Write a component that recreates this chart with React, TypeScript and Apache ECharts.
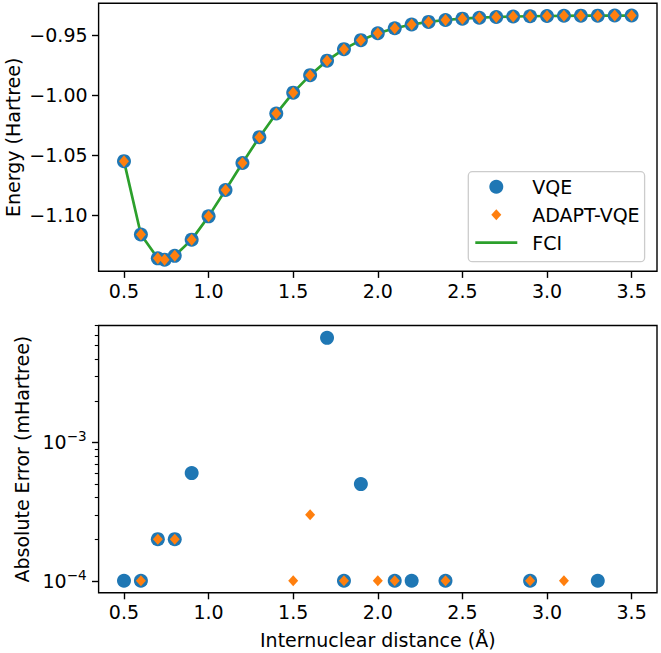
import React, { useEffect, useRef } from "react";
import * as echarts from "echarts";

// ---------- data ----------
const distances = [
  0.5, 0.6, 0.7, 0.74, 0.8, 0.9, 1.0, 1.1, 1.2, 1.3, 1.4, 1.5, 1.6, 1.7, 1.8, 1.9, 2.0,
  2.1, 2.2, 2.3, 2.4, 2.5, 2.6, 2.7, 2.8, 2.9, 3.0, 3.1, 3.2, 3.3, 3.4, 3.5,
];
const fciEnergy = [
  -1.0552, -1.1163, -1.1362, -1.1373, -1.1341, -1.1206, -1.1012, -1.0792, -1.0567, -1.0352,
  -1.0155, -0.9981, -0.9835, -0.9714, -0.9618, -0.9543, -0.9486, -0.9444, -0.9413, -0.9391,
  -0.9375, -0.9364, -0.9356, -0.935, -0.9346, -0.9344, -0.9342, -0.934, -0.9339, -0.9339,
  -0.9338, -0.9338,
];
const vqeEnergy = [
  -1.0552, -1.1163, -1.1362, -1.1373, -1.1341, -1.1206, -1.1012, -1.0792, -1.0567, -1.0352,
  -1.0155, -0.9981, -0.9835, -0.9714, -0.9618, -0.9543, -0.9486, -0.9444, -0.9413, -0.9391,
  -0.9375, -0.9364, -0.9356, -0.935, -0.9346, -0.9344, -0.9342, -0.934, -0.9339, -0.9339,
  -0.9338, -0.9338,
];
const adaptEnergy = [
  -1.0552, -1.1163, -1.1362, -1.1373, -1.1341, -1.1206, -1.1012, -1.0792, -1.0567, -1.0352,
  -1.0155, -0.9981, -0.9835, -0.9714, -0.9618, -0.9543, -0.9486, -0.9444, -0.9413, -0.9391,
  -0.9375, -0.9364, -0.9356, -0.935, -0.9346, -0.9344, -0.9342, -0.934, -0.9339, -0.9339,
  -0.9338, -0.9338,
];

const vqeErrDist = [0.5, 0.6, 0.7, 0.8, 0.9, 1.7, 1.8, 1.9, 2.1, 2.2, 2.4, 2.9, 3.3];
const vqeErr = [1e-4, 1e-4, 2e-4, 2e-4, 6e-4, 5.7e-3, 1e-4, 5e-4, 1e-4, 1e-4, 1e-4, 1e-4, 1e-4];
const adaptErrDist = [0.6, 0.7, 0.8, 1.5, 1.6, 1.8, 2.0, 2.1, 2.4, 2.9, 3.1];
const adaptErr = [1e-4, 2e-4, 2e-4, 1e-4, 3e-4, 1e-4, 1e-4, 1e-4, 1e-4, 1e-4, 1e-4];

const xTicks = [0.5, 1.0, 1.5, 2.0, 2.5, 3.0, 3.5];
const energyTicks = [-1.1, -1.05, -1.0, -0.95];
const errMajorTicks = [1e-4, 1e-3];
const errMinorTicks = [2e-4, 3e-4, 4e-4, 5e-4, 6e-4, 7e-4, 8e-4, 9e-4, 2e-3, 3e-3, 4e-3, 5e-3, 6e-3, 7e-3];

// ---------- styles ----------
const FONT = "DejaVu Sans";
const FS = 19;
const BLUE = "#1f77b4";
const ORANGE = "#ff7f0e";
const GREEN = "#2ca02c";
const DIAMOND_ICON = "path://M0,0M14,14M7,1.5L12,7L7,12.5L2,7Z";
const LINE_ICON = "path://M0,0L42,0L42,2.7L0,2.7Z";

const pairs = (xs: number[], ys: number[]) => xs.map((x, i) => [x, ys[i]]);

export default function App() {
  const ref = useRef<HTMLDivElement>(null);

  useEffect(() => {
    if (!ref.current) return;
    const chart = echarts.init(ref.current, null, { renderer: "svg" });

    const tickStyle = { color: "#000", width: 1.4 };
    const labelBase = { fontSize: FS, color: "#000", fontFamily: FONT };

    const xAxisCommon = (gridIndex: number) => ({
      gridIndex,
      type: "value",
      min: 0.35,
      max: 3.65,
      axisLine: { show: false },
      splitLine: { show: false },
      axisTick: { show: true, customValues: xTicks, length: 6.6, lineStyle: tickStyle },
      axisLabel: {
        ...labelBase,
        customValues: xTicks,
        margin: 10,
        formatter: (v: number) => v.toFixed(1),
      },
    });

    const option: any = {
      animation: false,
      textStyle: { fontFamily: FONT },
      grid: [
        {
          left: 98.6, top: 3.3, width: 558.4, height: 268,
          show: true, borderColor: "#000", borderWidth: 1.4, backgroundColor: "transparent",
          outerBoundsMode: "none",
        },
        {
          left: 98.6, top: 325.5, width: 558.4, height: 267.2,
          show: true, borderColor: "#000", borderWidth: 1.4, backgroundColor: "transparent",
          outerBoundsMode: "none",
        },
      ],
      xAxis: [
        xAxisCommon(0),
        {
          ...xAxisCommon(1),
          name: "Internuclear distance (Å)",
          nameLocation: "middle",
          nameGap: 38,
          nameMoveOverlap: false,
          nameTextStyle: { ...labelBase },
        },
      ],
      yAxis: [
        {
          gridIndex: 0,
          type: "value",
          min: -1.147,
          max: -0.9236,
          axisLine: { show: false },
          splitLine: { show: false },
          axisTick: { show: true, customValues: energyTicks, length: 6.6, lineStyle: tickStyle },
          axisLabel: {
            ...labelBase,
            customValues: energyTicks,
            margin: 11,
            formatter: (v: number) => v.toFixed(2).replace("-", "\u2212"),
          },
          name: "Energy (Hartree)",
          nameLocation: "middle",
          nameGap: 76,
          nameMoveOverlap: false,
          nameTextStyle: { ...labelBase },
        },
        {
          gridIndex: 1,
          type: "log",
          logBase: 10,
          min: 8.2e-5,
          max: 7.0e-3,
          axisLine: { show: false },
          splitLine: { show: false },
          axisTick: { show: true, customValues: errMajorTicks, length: 6.6, lineStyle: tickStyle },
          axisLabel: {
            ...labelBase,
            customValues: errMajorTicks,
            margin: 12,
            formatter: (v: number) => {
              const e = Math.round(Math.log10(v));
              return "{b|10}{s|" + (e < 0 ? "\u2212" : "") + Math.abs(e) + "}";
            },
            rich: {
              b: { fontSize: FS, color: "#000", fontFamily: FONT, lineHeight: 22 },
              s: {
                fontSize: 13.5, color: "#000", fontFamily: FONT,
                verticalAlign: "bottom", padding: [0, 0, 12, 0],
              },
            },
          },
          name: "Absolute Error (mHartree)",
          nameLocation: "middle",
          nameGap: 67,
          nameMoveOverlap: false,
          nameTextStyle: { ...labelBase },
        },
        {
          gridIndex: 1,
          type: "log",
          logBase: 10,
          min: 8.2e-5,
          max: 7.0e-3,
          position: "left",
          offset: 0,
          axisLine: { show: false },
          splitLine: { show: false },
          axisLabel: { show: false },
          axisTick: {
            show: true, customValues: errMinorTicks, length: 3.8,
            lineStyle: { color: "#000", width: 1.1 },
          },
        },
      ],
      legend: {
        left: 468.3,
        top: 171.7,
        orient: "vertical",
        selectedMode: false,
        data: [
          { name: "VQE", icon: "circle" },
          { name: "ADAPT-VQE", icon: DIAMOND_ICON },
          { name: "FCI", icon: LINE_ICON },
        ],
        itemWidth: 42,
        itemHeight: 14,
        itemGap: 8,
        padding: [5, 5, 9, 7],
        backgroundColor: "rgba(255,255,255,0.8)",
        borderColor: "#cccccc",
        borderWidth: 1.3,
        borderRadius: 4,
        textStyle: { ...labelBase, lineHeight: 20, padding: [0, 0, 0, 10] },
      },
      series: [
        {
          type: "line",
          name: "FCI",
          xAxisIndex: 0,
          yAxisIndex: 0,
          data: pairs(distances, fciEnergy),
          symbol: "none",
          lineStyle: { color: GREEN, width: 2.7 },
          itemStyle: { color: GREEN },
          z: 2,
        },
        {
          type: "scatter",
          name: "VQE",
          xAxisIndex: 0,
          yAxisIndex: 0,
          data: pairs(distances, vqeEnergy),
          symbol: "circle",
          symbolSize: 14,
          itemStyle: { color: BLUE, opacity: 1 },
          z: 3,
        },
        {
          type: "scatter",
          name: "ADAPT-VQE",
          xAxisIndex: 0,
          yAxisIndex: 0,
          data: pairs(distances, adaptEnergy),
          symbol: "diamond",
          symbolSize: [10, 12],
          itemStyle: { color: ORANGE, opacity: 1 },
          z: 4,
        },
        {
          type: "scatter",
          name: "VQE",
          xAxisIndex: 1,
          yAxisIndex: 1,
          data: pairs(vqeErrDist, vqeErr),
          symbol: "circle",
          symbolSize: 14,
          itemStyle: { color: BLUE, opacity: 1 },
          z: 3,
        },
        {
          type: "scatter",
          name: "ADAPT-VQE",
          xAxisIndex: 1,
          yAxisIndex: 1,
          data: pairs(adaptErrDist, adaptErr),
          symbol: "diamond",
          symbolSize: [10, 11],
          itemStyle: { color: ORANGE, opacity: 1 },
          z: 4,
        },
      ],
    };

    chart.setOption(option);
    return () => chart.dispose();
  }, []);

  return (
    <div
      ref={ref}
      style={{ position: "fixed", left: 0, top: 0, width: 661, height: 653, background: "#fff" }}
    />
  );
}
